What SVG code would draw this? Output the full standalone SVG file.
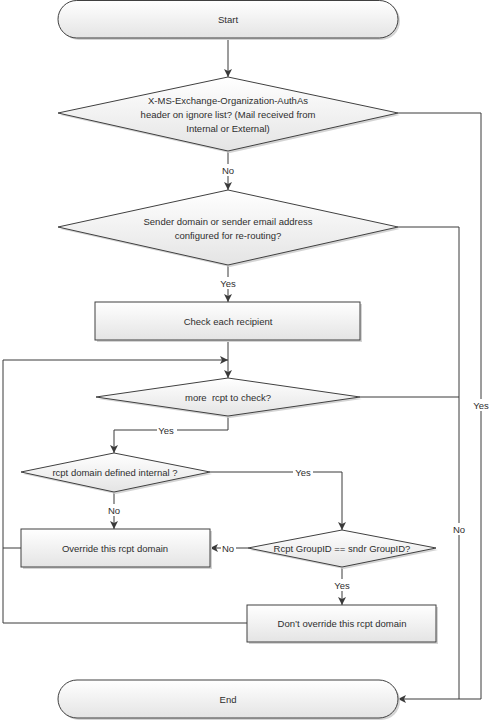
<svg xmlns="http://www.w3.org/2000/svg" width="489" height="721" viewBox="0 0 489 721">
<defs>
<linearGradient id="g" x1="0" y1="0" x2="0" y2="1">
<stop offset="0" stop-color="#ffffff"/>
<stop offset="1" stop-color="#e4e4e4"/>
</linearGradient>
<marker id="arr" viewBox="0 0 10 10" refX="10" refY="5" markerWidth="8" markerHeight="8" markerUnits="userSpaceOnUse" orient="auto">
<path d="M0,0 L10,5 L0,10 L2.5,5 Z" fill="#3a3a3a"/>
</marker>
<style>
.s{fill:url(#g);stroke:#404040;stroke-width:1}
.sh{fill:#d4d4d4;stroke:none}
.t{font-family:"Liberation Sans",Arial,sans-serif;font-size:9.5px;fill:#2e2e2e;text-anchor:middle;dominant-baseline:central}
.c{fill:none;stroke:#3a3a3a;stroke-width:1}
.l{font-family:"Liberation Sans",Arial,sans-serif;font-size:9.5px;fill:#2e2e2e;text-anchor:middle;dominant-baseline:central}
.lb{fill:#ffffff}
</style>
</defs>
<rect width="489" height="721" fill="#ffffff"/>

<g id="connectors">
<path class="c" d="M228,38 V77" marker-end="url(#arr)"/>
<path class="c" d="M228,151 V190" marker-end="url(#arr)"/>
<path class="c" d="M398,113 H481 V699 H398" marker-end="url(#arr)"/>
<path class="c" d="M398,227 H459 V699"/>
<path class="c" d="M228,265 V302" marker-end="url(#arr)"/>
<path class="c" d="M228,340 V378" marker-end="url(#arr)"/>
<path class="c" d="M3,548 V360 H228" marker-end="url(#arr)"/>
<path class="c" d="M21,548 H3"/>
<path class="c" d="M247,623 H3 V548"/>
<path class="c" d="M360,397 H459"/>
<path class="c" d="M228,416 V430 H114 V453" marker-end="url(#arr)"/>
<path class="c" d="M210,472 H342 V530" marker-end="url(#arr)"/>
<path class="c" d="M114,492 V529" marker-end="url(#arr)"/>
<path class="c" d="M248,548 H210" marker-end="url(#arr)"/>
<path class="c" d="M342,567 V605" marker-end="url(#arr)"/>
<rect class="lb" x="220" y="164" width="16" height="12"/>
<text class="l" x="228" y="170">No</text>
<rect class="lb" x="218" y="277" width="20" height="12"/>
<text class="l" x="228" y="283">Yes</text>
<rect class="lb" x="471" y="399" width="20" height="12"/>
<text class="l" x="481" y="405">Yes</text>
<rect class="lb" x="451" y="523" width="16" height="12"/>
<text class="l" x="459" y="529">No</text>
<rect class="lb" x="157" y="424" width="20" height="12"/>
<text class="l" x="166" y="430">Yes</text>
<rect class="lb" x="293" y="466" width="20" height="12"/>
<text class="l" x="303" y="472">Yes</text>
<rect class="lb" x="106" y="504" width="16" height="12"/>
<text class="l" x="114" y="510">No</text>
<rect class="lb" x="221" y="542" width="15" height="12"/>
<text class="l" x="228" y="548">No</text>
<rect class="lb" x="332" y="579" width="20" height="12"/>
<text class="l" x="342" y="585">Yes</text>
</g>

<g id="start">
<rect class="sh" x="60" y="2" width="340" height="38" rx="19"/>
<rect class="s" x="58" y="0.5" width="340" height="37.5" rx="18.75"/>
<text class="t" x="228" y="19">Start</text>
</g>

<g id="d1">
<polygon class="sh" points="230,79 400,115 230,153 60,115"/>
<polygon class="s" points="228,77 398,113 228,151 58,113"/>
<text class="t" x="228" y="100">X-MS-Exchange-Organization-AuthAs</text>
<text class="t" x="228" y="114">header on ignore list? (Mail received from</text>
<text class="t" x="228" y="128">Internal or External)</text>
</g>

<g id="d2">
<polygon class="sh" points="230,192 400,229 230,267 60,229"/>
<polygon class="s" points="228,190 398,227 228,265 58,227"/>
<text class="t" x="228" y="221">Sender domain or sender email address</text>
<text class="t" x="228" y="235">configured for re-routing?</text>
</g>

<g id="check">
<rect class="sh" x="97" y="304" width="265" height="38"/>
<rect class="s" x="95" y="302" width="265" height="38"/>
<text class="t" x="228" y="321">Check each recipient</text>
</g>

<g id="d3">
<polygon class="sh" points="230,380 362,399 230,418 98,399"/>
<polygon class="s" points="228,378 360,397 228,416 96,397"/>
<text class="t" x="228" y="397" xml:space="preserve">more  rcpt to check?</text>
</g>

<g id="d4">
<polygon class="sh" points="116,455 212,474 116,494 23,474"/>
<polygon class="s" points="114,453 210,472 114,492 21,472"/>
<text class="t" x="115" y="472">rcpt domain defined internal ?</text>
</g>

<g id="override">
<rect class="sh" x="23" y="531" width="189" height="38"/>
<rect class="s" x="21" y="529" width="189" height="38"/>
<text class="t" x="115" y="548">Override this rcpt domain</text>
</g>

<g id="d5">
<polygon class="sh" points="344,532 438,550 344,569 250,550"/>
<polygon class="s" points="342,530 436,548 342,567 248,548"/>
<text class="t" x="342" y="548">Rcpt GroupID == sndr GroupID?</text>
</g>

<g id="dont">
<rect class="sh" x="249" y="607" width="189" height="37"/>
<rect class="s" x="247" y="605" width="189" height="37"/>
<text class="t" x="342" y="623">Don’t override this rcpt domain</text>
</g>

<g id="end">
<rect class="sh" x="60" y="682" width="340" height="38" rx="19"/>
<rect class="s" x="58" y="680" width="340" height="38" rx="19"/>
<text class="t" x="228" y="699">End</text>
</g>
</svg>
